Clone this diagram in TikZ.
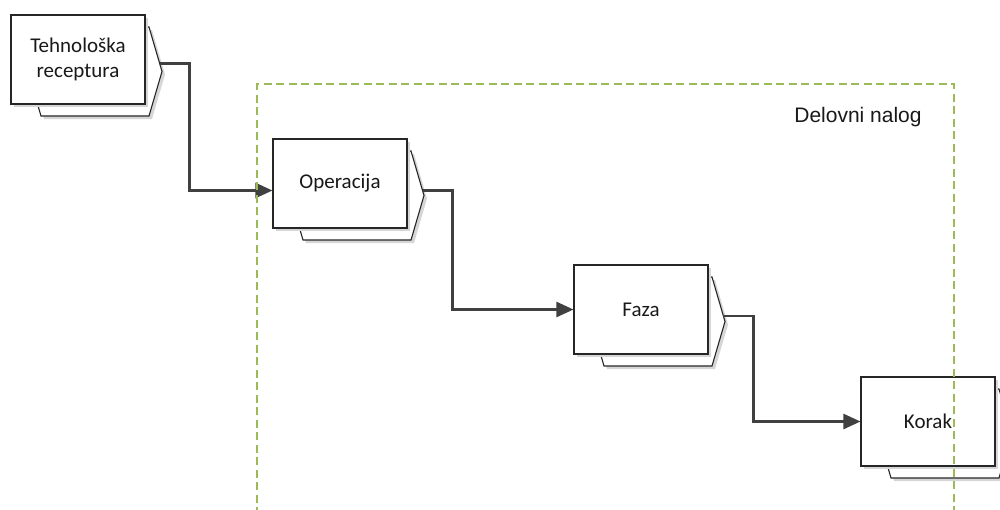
\documentclass[tikz,border=0pt]{standalone}
\usepackage{fontspec}
\setmainfont{Carlito}
\newfontfamily\arialfont{Liberation Sans}
\usetikzlibrary{arrows.meta}
\definecolor{edge}{HTML}{262626}
\definecolor{wire}{HTML}{404040}
\definecolor{frame}{HTML}{9BBB59}
\definecolor{shade}{HTML}{D6D6D6}

\tikzset{
  card/.style={draw=edge, line width=1.1pt, fill=white},
  cardshadow/.style={fill=shade, draw=none},
  front/.style={card, minimum width=134pt, minimum height=89pt, inner sep=0pt,
    align=center, font=\fontsize{21}{25}\selectfont, text=black!90},
  conn/.style={draw=wire, line width=2.4pt, -{Triangle[length=17pt,width=15pt]}},
  container/.style={draw=frame, line width=2pt, dash pattern=on 8pt off 4.5pt},
}

% a stacked card: pointed back sheet, shadow and front rectangle;
% #1 name, #2/#3 centre, #4 text, #5 vertical offset of the outgoing wire
\newcommand\stackcard[5]{%
  \begin{scope}[shift={(#2,#3)}]
    \fill[cardshadow] (-34,59.5) -- (-47,15) -- (-34,-29.5) -- (74,-29.5) -- (87,15) -- (74,59.5) -- cycle;
    \path[card] (-37,56.5) -- (-50,12) -- (-37,-32.5) -- (71,-32.5) -- (84,12) -- (71,56.5) -- cycle;
    \fill[cardshadow] (-64,-41.5) rectangle (70,47.5);
    \node[front] (#1) at (0,0) {#4};
    \coordinate (#1-out) at ({71+13*(#5+32.5)/44.5},#5);
  \end{scope}}

\begin{document}
\begin{tikzpicture}[x=1pt,y=-1pt]
  \useasboundingbox (0,0) rectangle (1000,509);
  \fill[white] (0,0) rectangle (1000,509);

  \stackcard{teh}{78}{59.5}{Tehnološka\\receptura}{4}
  \stackcard{op}{340}{183.5}{Operacija}{7}
  \stackcard{faza}{641}{309.5}{Faza}{6.5}
  \stackcard{korak}{928}{421.5}{Korak}{6}

  \draw[conn] (teh-out) -- ++(30,0) |- ([yshift=-7pt]op.west);
  \draw[conn] (op-out) -- ++(30,0) |- (faza.west);
  \draw[conn] (faza-out) -- ++(30,0) |- (korak.west);

  % work order boundary
  \draw[container] (257,540) -- (257,84) -- (954,84) -- (954,540);
  \node[font=\arialfont\fontsize{21}{25}\selectfont, text=black!90] (wo) at (858,117) {Delovni nalog};
\end{tikzpicture}
\end{document}
